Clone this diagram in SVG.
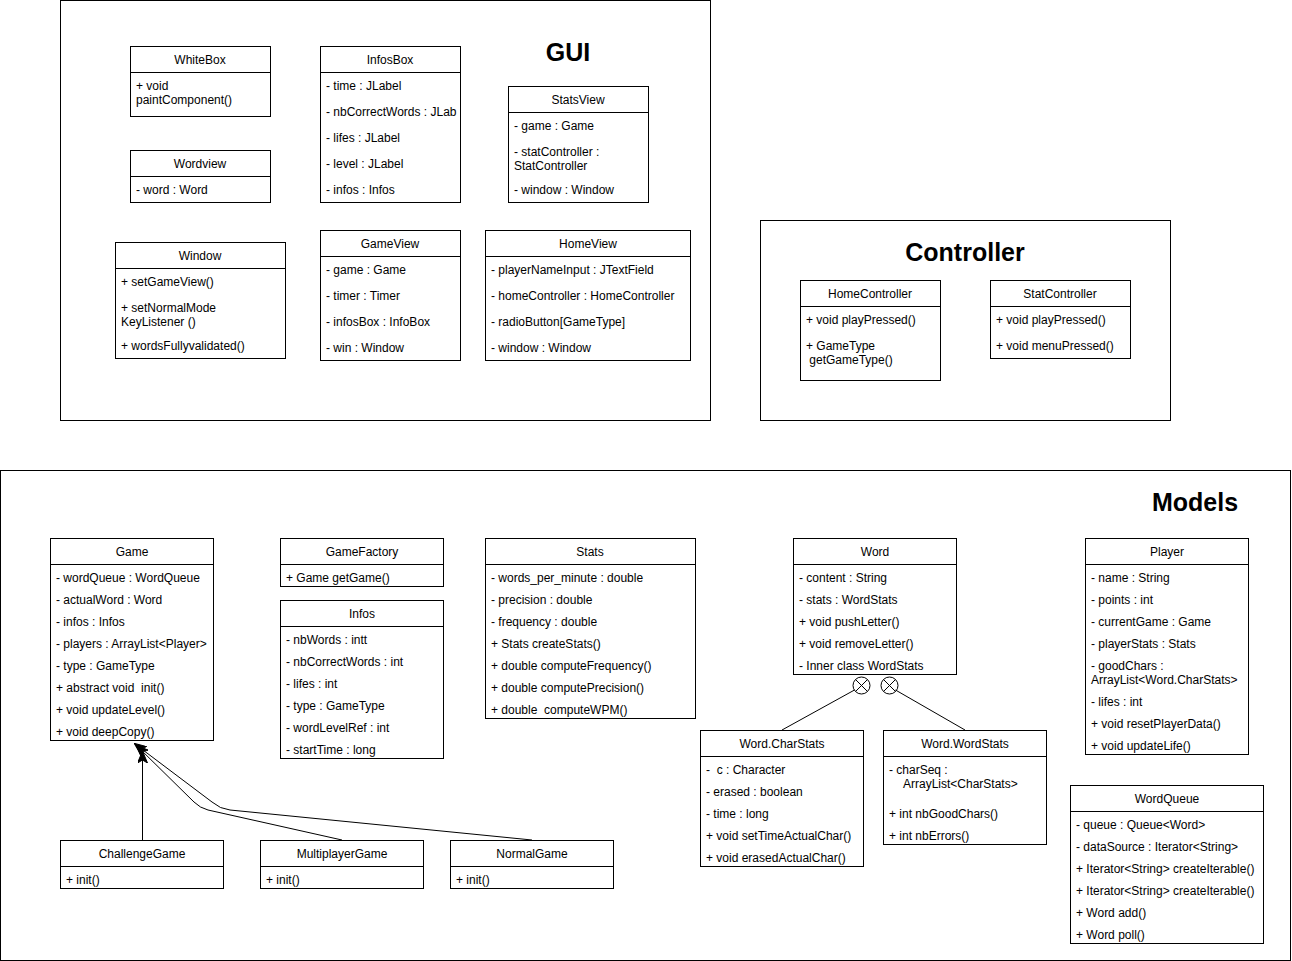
<svg xmlns="http://www.w3.org/2000/svg" width="1292" height="961" viewBox="0 0 1292 961">
<defs>
<style>
.frame{fill:#fff;stroke:#000;stroke-width:1}
.box{fill:#fff;stroke:#000;stroke-width:1}
.ln{stroke:#000;stroke-width:1;fill:none}
text{font-family:"Liberation Sans",Arial,Helvetica,sans-serif;font-size:12px;fill:#000;white-space:pre}
.c{text-anchor:middle}
.h{font-size:25px;font-weight:bold;text-anchor:middle}
</style>
<marker id="arr" viewBox="0 0 12 10" refX="11" refY="5" markerWidth="12" markerHeight="10" markerUnits="userSpaceOnUse" orient="auto">
<path d="M0,0 L12,5 L0,10 L3,5 Z" fill="#000" stroke="#000" stroke-width="1"/>
</marker>
</defs>
<rect width="1292" height="961" fill="#fff"/>

<g id="gui-package">
<rect class="frame" x="60.5" y="0.5" width="650" height="420"/>
<text class="h" x="568" y="61">GUI</text>
</g>
<g id="controller-package">
<rect class="frame" x="760.5" y="220.5" width="410" height="200"/>
<text class="h" x="965" y="261">Controller</text>
</g>
<g id="models-package">
<rect class="frame" x="0.5" y="470.5" width="1290" height="490"/>
<text class="h" x="1195" y="511">Models</text>
</g>

<g id="WhiteBox">
<rect class="box" x="130.5" y="46.5" width="140" height="70"/>
<line class="ln" x1="130.5" y1="72.5" x2="270.5" y2="72.5"/>
<text class="c" x="200" y="64">WhiteBox</text>
<text x="136" y="90">+ void</text>
<text x="136" y="104">paintComponent()</text>
</g>
<g id="Wordview">
<rect class="box" x="130.5" y="150.5" width="140" height="52"/>
<line class="ln" x1="130.5" y1="176.5" x2="270.5" y2="176.5"/>
<text class="c" x="200" y="168">Wordview</text>
<text x="136" y="194">- word : Word</text>
</g>
<g id="Window">
<rect class="box" x="115.5" y="242.5" width="170" height="116"/>
<line class="ln" x1="115.5" y1="268.5" x2="285.5" y2="268.5"/>
<text class="c" x="200" y="260">Window</text>
<text x="121" y="286">+ setGameView()</text>
<text x="121" y="312">+ setNormalMode</text>
<text x="121" y="326">KeyListener ()</text>
<text x="121" y="350">+ wordsFullyvalidated()</text>
</g>
<g id="InfosBox">
<rect class="box" x="320.5" y="46.5" width="140" height="156"/>
<line class="ln" x1="320.5" y1="72.5" x2="460.5" y2="72.5"/>
<text class="c" x="390" y="64">InfosBox</text>
<text x="326" y="90">- time : JLabel</text>
<text x="326" y="116">- nbCorrectWords : JLab</text>
<text x="326" y="142">- lifes : JLabel</text>
<text x="326" y="168">- level : JLabel</text>
<text x="326" y="194">- infos : Infos</text>
</g>
<g id="GameView">
<rect class="box" x="320.5" y="230.5" width="140" height="130"/>
<line class="ln" x1="320.5" y1="256.5" x2="460.5" y2="256.5"/>
<text class="c" x="390" y="248">GameView</text>
<text x="326" y="274">- game : Game</text>
<text x="326" y="300">- timer : Timer</text>
<text x="326" y="326">- infosBox : InfoBox</text>
<text x="326" y="352">- win : Window</text>
</g>
<g id="StatsView">
<rect class="box" x="508.5" y="86.5" width="140" height="116"/>
<line class="ln" x1="508.5" y1="112.5" x2="648.5" y2="112.5"/>
<text class="c" x="578" y="104">StatsView</text>
<text x="514" y="130">- game : Game</text>
<text x="514" y="156">- statController :</text>
<text x="514" y="170">StatController</text>
<text x="514" y="194">- window : Window</text>
</g>
<g id="HomeView">
<rect class="box" x="485.5" y="230.5" width="205" height="130"/>
<line class="ln" x1="485.5" y1="256.5" x2="690.5" y2="256.5"/>
<text class="c" x="588" y="248">HomeView</text>
<text x="491" y="274">- playerNameInput : JTextField</text>
<text x="491" y="300">- homeController : HomeController</text>
<text x="491" y="326">- radioButton[GameType]</text>
<text x="491" y="352">- window : Window</text>
</g>

<g id="HomeController">
<rect class="box" x="800.5" y="280.5" width="140" height="100"/>
<line class="ln" x1="800.5" y1="306.5" x2="940.5" y2="306.5"/>
<text class="c" x="870" y="298">HomeController</text>
<text x="806" y="324">+ void playPressed()</text>
<text x="806" y="350">+ GameType</text>
<text x="806" y="364"> getGameType()</text>
</g>
<g id="StatController">
<rect class="box" x="990.5" y="280.5" width="140" height="78"/>
<line class="ln" x1="990.5" y1="306.5" x2="1130.5" y2="306.5"/>
<text class="c" x="1060" y="298">StatController</text>
<text x="996" y="324">+ void playPressed()</text>
<text x="996" y="350">+ void menuPressed()</text>
</g>

<g id="Game">
<rect class="box" x="50.5" y="538.5" width="163" height="202"/>
<line class="ln" x1="50.5" y1="564.5" x2="213.5" y2="564.5"/>
<text class="c" x="132" y="556">Game</text>
<text x="56" y="582">- wordQueue : WordQueue</text>
<text x="56" y="604">- actualWord : Word</text>
<text x="56" y="626">- infos : Infos</text>
<text x="56" y="648">- players : ArrayList&lt;Player&gt;</text>
<text x="56" y="670">- type : GameType</text>
<text x="56" y="692">+ abstract void  init()</text>
<text x="56" y="714">+ void updateLevel()</text>
<text x="56" y="736">+ void deepCopy()</text>
</g>
<g id="GameFactory">
<rect class="box" x="280.5" y="538.5" width="163" height="48"/>
<line class="ln" x1="280.5" y1="564.5" x2="443.5" y2="564.5"/>
<text class="c" x="362" y="556">GameFactory</text>
<text x="286" y="582">+ Game getGame()</text>
</g>
<g id="Infos">
<rect class="box" x="280.5" y="600.5" width="163" height="158"/>
<line class="ln" x1="280.5" y1="626.5" x2="443.5" y2="626.5"/>
<text class="c" x="362" y="618">Infos</text>
<text x="286" y="644">- nbWords : intt</text>
<text x="286" y="666">- nbCorrectWords : int</text>
<text x="286" y="688">- lifes : int</text>
<text x="286" y="710">- type : GameType</text>
<text x="286" y="732">- wordLevelRef : int</text>
<text x="286" y="754">- startTime : long</text>
</g>
<g id="Stats">
<rect class="box" x="485.5" y="538.5" width="210" height="180"/>
<line class="ln" x1="485.5" y1="564.5" x2="695.5" y2="564.5"/>
<text class="c" x="590" y="556">Stats</text>
<text x="491" y="582">- words_per_minute : double</text>
<text x="491" y="604">- precision : double</text>
<text x="491" y="626">- frequency : double</text>
<text x="491" y="648">+ Stats createStats()</text>
<text x="491" y="670">+ double computeFrequency()</text>
<text x="491" y="692">+ double computePrecision()</text>
<text x="491" y="714">+ double  computeWPM()</text>
</g>
<g id="Word">
<rect class="box" x="793.5" y="538.5" width="163" height="136"/>
<line class="ln" x1="793.5" y1="564.5" x2="956.5" y2="564.5"/>
<text class="c" x="875" y="556">Word</text>
<text x="799" y="582">- content : String</text>
<text x="799" y="604">- stats : WordStats</text>
<text x="799" y="626">+ void pushLetter()</text>
<text x="799" y="648">+ void removeLetter()</text>
<text x="799" y="670">- Inner class WordStats</text>
</g>
<g id="Player">
<rect class="box" x="1085.5" y="538.5" width="163" height="216"/>
<line class="ln" x1="1085.5" y1="564.5" x2="1248.5" y2="564.5"/>
<text class="c" x="1167" y="556">Player</text>
<text x="1091" y="582">- name : String</text>
<text x="1091" y="604">- points : int</text>
<text x="1091" y="626">- currentGame : Game</text>
<text x="1091" y="648">- playerStats : Stats</text>
<text x="1091" y="670">- goodChars :</text>
<text x="1091" y="684">ArrayList&lt;Word.CharStats&gt;</text>
<text x="1091" y="706">- lifes : int</text>
<text x="1091" y="728">+ void resetPlayerData()</text>
<text x="1091" y="750">+ void updateLife()</text>
</g>
<g id="WordQueue">
<rect class="box" x="1070.5" y="785.5" width="193" height="158"/>
<line class="ln" x1="1070.5" y1="811.5" x2="1263.5" y2="811.5"/>
<text class="c" x="1167" y="803">WordQueue</text>
<text x="1076" y="829">- queue : Queue&lt;Word&gt;</text>
<text x="1076" y="851">- dataSource : Iterator&lt;String&gt;</text>
<text x="1076" y="873">+ Iterator&lt;String&gt; createIterable()</text>
<text x="1076" y="895">+ Iterator&lt;String&gt; createIterable()</text>
<text x="1076" y="917">+ Word add()</text>
<text x="1076" y="939">+ Word poll()</text>
</g>
<g id="Word.CharStats">
<rect class="box" x="700.5" y="730.5" width="163" height="136"/>
<line class="ln" x1="700.5" y1="756.5" x2="863.5" y2="756.5"/>
<text class="c" x="782" y="748">Word.CharStats</text>
<text x="706" y="774">-  c : Character</text>
<text x="706" y="796">- erased : boolean</text>
<text x="706" y="818">- time : long</text>
<text x="706" y="840">+ void setTimeActualChar()</text>
<text x="706" y="862">+ void erasedActualChar()</text>
</g>
<g id="Word.WordStats">
<rect class="box" x="883.5" y="730.5" width="163" height="114"/>
<line class="ln" x1="883.5" y1="756.5" x2="1046.5" y2="756.5"/>
<text class="c" x="965" y="748">Word.WordStats</text>
<text x="889" y="774">- charSeq :</text>
<text x="903" y="788">ArrayList&lt;CharStats&gt;</text>
<text x="889" y="818">+ int nbGoodChars()</text>
<text x="889" y="840">+ int nbErrors()</text>
</g>
<g id="ChallengeGame">
<rect class="box" x="60.5" y="840.5" width="163" height="48"/>
<line class="ln" x1="60.5" y1="866.5" x2="223.5" y2="866.5"/>
<text class="c" x="142" y="858">ChallengeGame</text>
<text x="66" y="884">+ init()</text>
</g>
<g id="MultiplayerGame">
<rect class="box" x="260.5" y="840.5" width="163" height="48"/>
<line class="ln" x1="260.5" y1="866.5" x2="423.5" y2="866.5"/>
<text class="c" x="342" y="858">MultiplayerGame</text>
<text x="266" y="884">+ init()</text>
</g>
<g id="NormalGame">
<rect class="box" x="450.5" y="840.5" width="163" height="48"/>
<line class="ln" x1="450.5" y1="866.5" x2="613.5" y2="866.5"/>
<text class="c" x="532" y="858">NormalGame</text>
<text x="456" y="884">+ init()</text>
</g>

<g id="connectors">
<path class="ln" d="M142.5,840 L142.5,752" marker-end="url(#arr)"/>
<path class="ln" d="M342,840 L208,810 Q200,808 194,802 L137,746" marker-end="url(#arr)"/>
<path class="ln" d="M532,840 L230,810 Q220,809 212,802 L135,744" marker-end="url(#arr)"/>
<line class="ln" x1="782" y1="730" x2="854.5" y2="690"/>
<line class="ln" x1="965" y1="730" x2="895.5" y2="690"/>
<g class="ln">
<circle cx="861.5" cy="685.5" r="8.5"/>
<line x1="855.5" y1="679.5" x2="867.5" y2="691.5"/>
<line x1="867.5" y1="679.5" x2="855.5" y2="691.5"/>
<circle cx="889.5" cy="685.5" r="8.5"/>
<line x1="883.5" y1="679.5" x2="895.5" y2="691.5"/>
<line x1="895.5" y1="679.5" x2="883.5" y2="691.5"/>
</g>
</g>
</svg>
